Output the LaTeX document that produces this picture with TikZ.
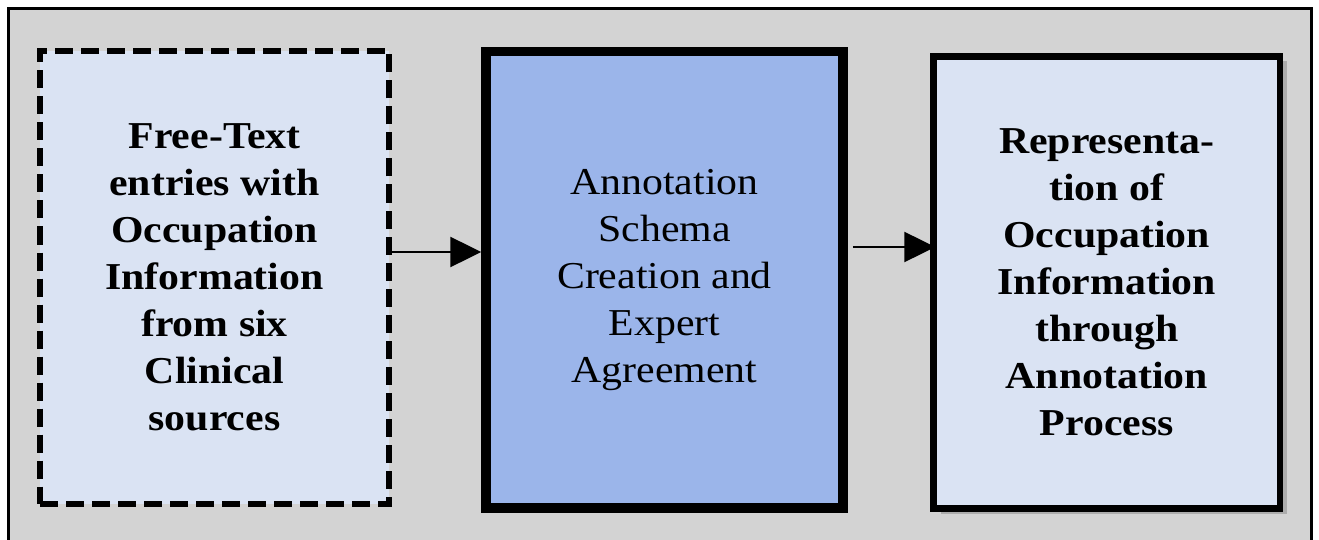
\documentclass[tikz,border=0pt]{standalone}
\usepackage{fontspec}
\setmainfont[FakeStretch=1.1]{Liberation Serif}
\usetikzlibrary{arrows.meta,shadows}
\definecolor{bggrey}{HTML}{D3D3D3}
\definecolor{lightbox}{HTML}{DAE3F3}
\definecolor{midbox}{HTML}{9BB5EA}
\tikzset{
  boxtext/.style={align=center, inner sep=0pt, text=black,
    font=\fontsize{38}{47}\selectfont},
  flowarrow/.style={line width=2.5pt, -{Triangle[length=31pt,width=30pt]}},
}
\begin{document}
\begin{tikzpicture}[x=1pt,y=-1pt]
\useasboundingbox (0,0) rectangle (1319,540);
\clip (0,0) rectangle (1319,540);
\fill[white] (0,0) rectangle (1319,540);
\draw[line width=3pt, fill=bggrey] (8.5,8.5) rectangle (1311.5,560);
% left box
\node[boxtext, draw=black, fill=lightbox, line width=6pt,
      dash pattern=on 18pt off 8pt,
      minimum width=349pt, minimum height=452.5pt,
      font=\fontsize{38}{47}\selectfont\bfseries] (src) at (214.5,277.25)
  {Free-Text\\entries with\\Occupation\\Information\\from six\\Clinical\\sources};
% middle box
\node[boxtext, draw=black, fill=midbox, line width=9.5pt,
      minimum width=357pt, minimum height=456.5pt] (schema) at (664.5,279.75)
  {Annotation\\Schema\\Creation and\\Expert\\Agreement};
% right box
\node[boxtext, draw=black, fill=lightbox, line width=6.5pt,
      minimum width=346.5pt, minimum height=452pt,
      drop shadow={shadow xshift=7pt, shadow yshift=-5pt, opacity=0.18, fill=black},
      font=\fontsize{38}{47}\selectfont\bfseries] (rep) at (1106.75,282.5)
  {Representa-\\tion of\\Occupation\\Information\\through\\Annotation\\Process};
% arrows
\draw[flowarrow] (src.east |- 0,252) -- (schema.west |- 0,252);
\draw[flowarrow] ([xshift=5pt]schema.east |- 0,247) -- ([xshift=5pt]rep.west |- 0,247);
\end{tikzpicture}
\end{document}
